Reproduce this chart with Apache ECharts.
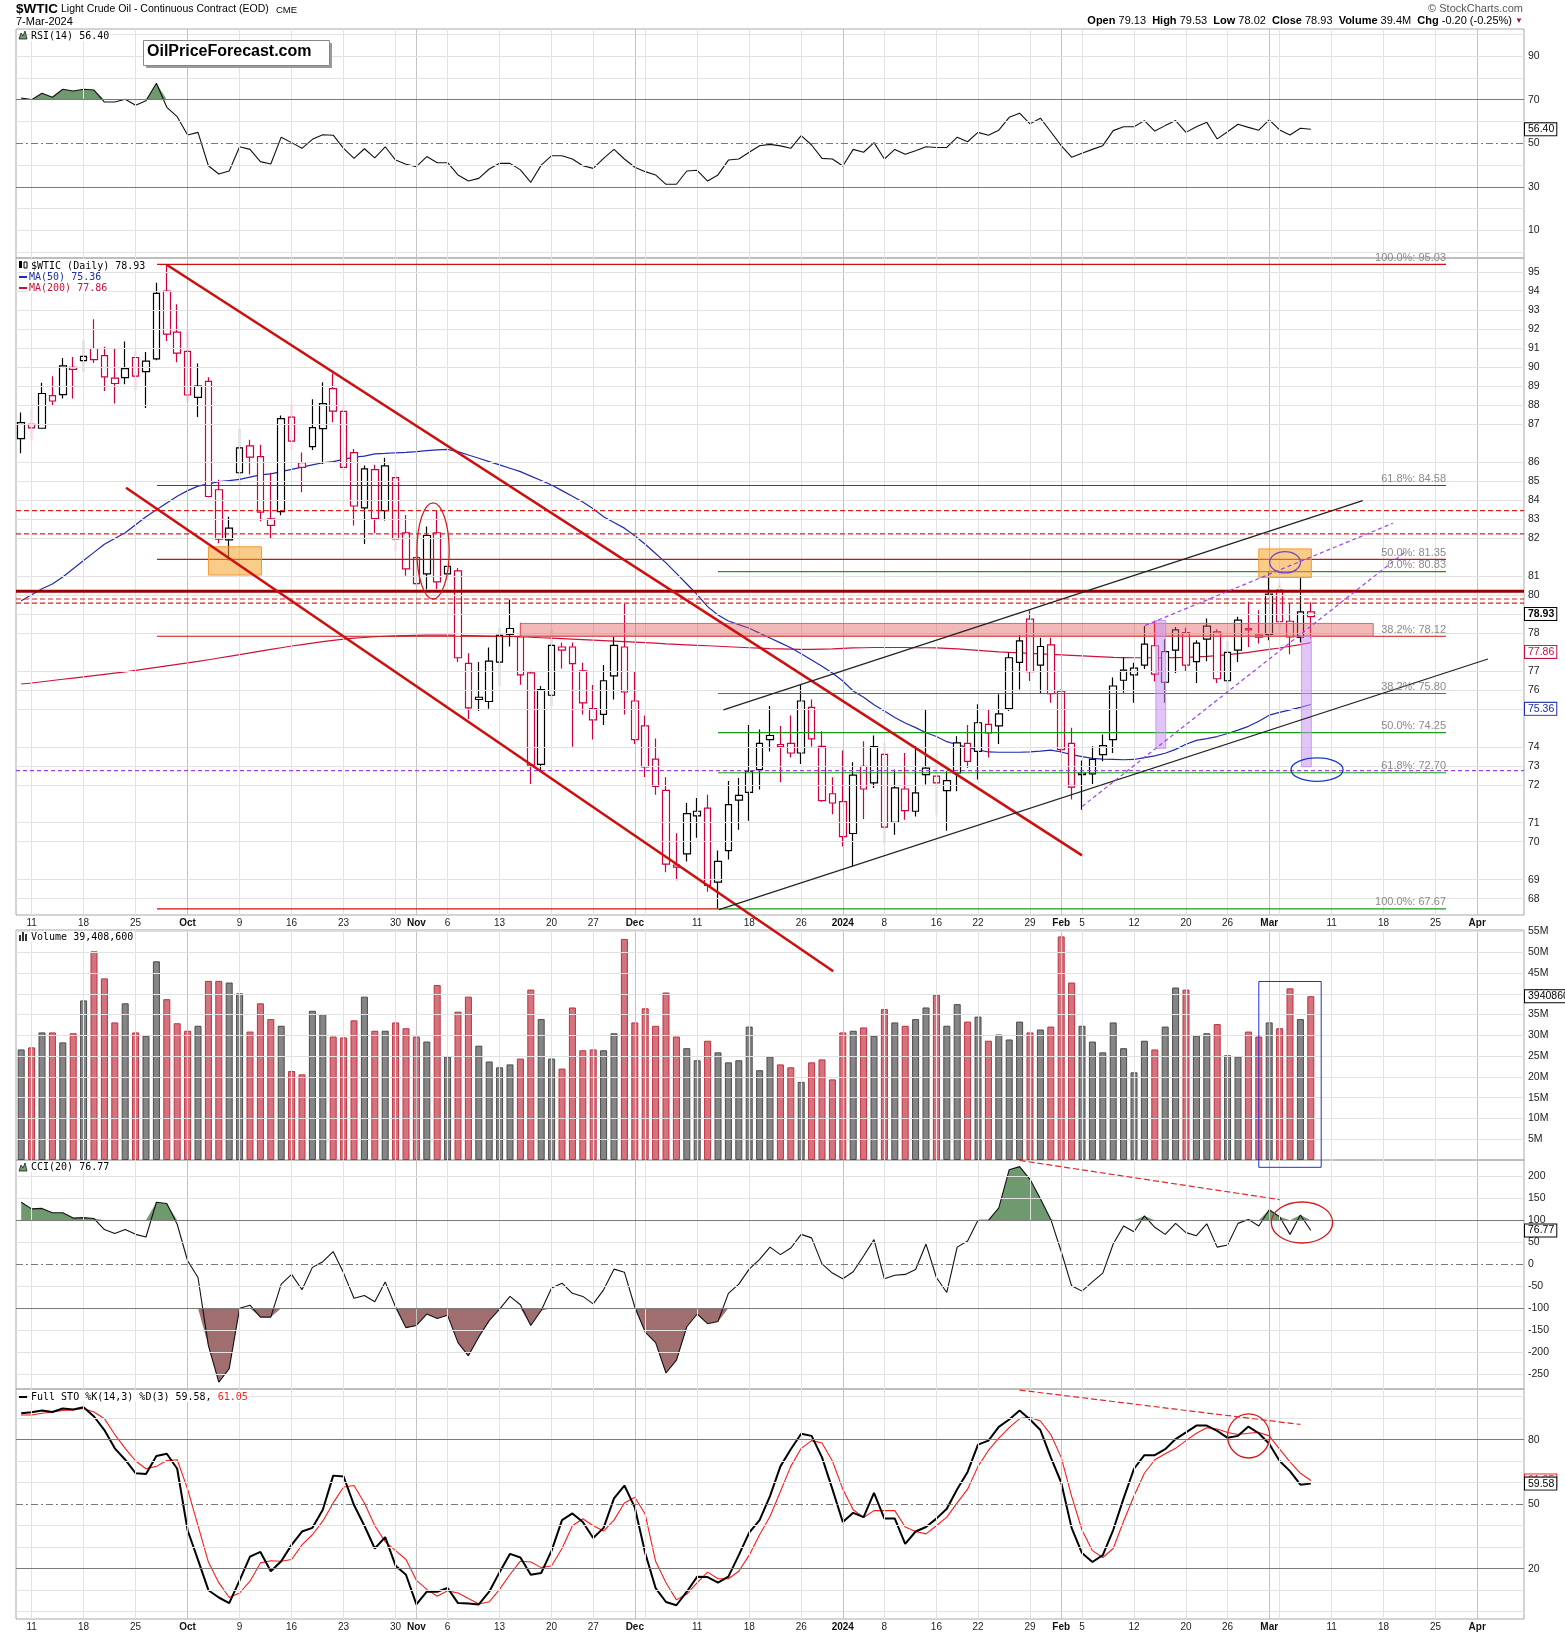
<!DOCTYPE html>
<html>
<head>
<meta charset="utf-8">
<script src="https://cdn.jsdelivr.net/npm/echarts/dist/echarts.min.js"></script>
<style>
  html, body { margin: 0; padding: 0; background: #fff; }
  #chart { width: 1565px; height: 1634px; }
</style>
</head>
<body>
<div id="chart"></div>
<script>
// ---------- calendar ----------
const startDate = '2023-09-08';
const holidays = ['2023-11-23', '2023-12-25', '2024-01-01', '2024-01-15', '2024-02-19', '2024-03-29'];
const totalDays = 145; // trading days shown on the axis, incl. empty future space

const tickDates = ['2023-09-11', '2023-09-18', '2023-09-25', '2023-10-02', '2023-10-09', '2023-10-16', '2023-10-23',
  '2023-10-30', '2023-11-01', '2023-11-06', '2023-11-13', '2023-11-20', '2023-11-27', '2023-12-01', '2023-12-11',
  '2023-12-18', '2023-12-26', '2024-01-02', '2024-01-08', '2024-01-16', '2024-01-22', '2024-01-29', '2024-02-01',
  '2024-02-05', '2024-02-12', '2024-02-20', '2024-02-26', '2024-03-01', '2024-03-11', '2024-03-18', '2024-03-25',
  '2024-04-01'];
const tickLabels = ['11', '18', '25', 'Oct', '9', '16', '23', '30', 'Nov', '6', '13', '20', '27', 'Dec', '11', '18',
  '26', '2024', '8', '16', '22', '29', 'Feb', '5', '12', '20', '26', 'Mar', '11', '18', '25', 'Apr'];
const boldLabels = ['Oct', 'Nov', 'Dec', '2024', 'Feb', 'Mar', 'Apr'];

// ---------- daily data (8 Sep 2023 .. 7 Mar 2024) ----------
const opens = [86.69, 87.35, 87.17, 88.68, 88.73, 90.01, 90.33, 90.91, 90.57, 89.25,
  89.53, 90.48, 89.81, 90.41, 93.70, 91.70, 90.77, 88.60, 89.35, 84.39,
  82.19, 85.15, 86.36, 85.88, 83.11, 83.42, 87.68, 85.60, 86.33, 87.15,
  89.01, 87.95, 86.06, 83.59, 85.29, 83.47, 84.93, 82.50, 81.43, 80.73,
  82.50, 81.05, 80.86, 77.01, 75.56, 75.48, 77.06, 78.44, 78.09, 76.63,
  73.02, 75.73, 77.55, 77.68, 76.71, 75.20, 74.97, 76.51, 77.68, 75.50,
  74.52, 73.22, 72.03, 69.17, 69.66, 71.07, 71.36, 68.63, 69.78, 71.84,
  71.95, 72.82, 73.98, 73.71, 73.83, 73.46, 75.25, 73.72, 71.90, 71.60,
  70.41, 72.95, 72.31, 73.41, 70.82, 72.08, 71.24, 72.88, 72.57, 72.02,
  72.69, 73.83, 73.52, 74.58, 74.52, 75.20, 77.05, 78.83, 76.94, 77.77,
  75.89, 73.83, 72.63, 72.66, 73.40, 73.98, 76.33, 76.55, 76.94, 77.73,
  76.25, 77.55, 78.27, 77.08, 78.00, 78.30, 76.31, 77.55, 78.44, 78.17,
  78.20, 80.04, 78.74, 78.07, 79.13];
const highs = [87.89, 88.07, 89.29, 89.59, 90.46, 90.50, 91.30, 92.32, 90.99, 90.91,
  91.25, 90.79, 90.74, 94.11, 95.03, 93.06, 91.82, 90.19, 89.54, 84.84,
  83.20, 87.15, 86.64, 86.42, 85.15, 87.76, 88.29, 86.06, 88.51, 89.31,
  89.72, 88.24, 86.22, 85.47, 85.51, 85.82, 85.25, 83.27, 81.80, 82.77,
  83.49, 81.08, 80.98, 77.42, 77.07, 77.66, 78.47, 79.65, 78.68, 76.71,
  76.10, 78.38, 77.86, 77.86, 77.04, 76.14, 76.95, 78.13, 79.47, 76.67,
  74.93, 74.02, 72.53, 70.42, 71.55, 71.74, 71.86, 69.78, 72.38, 72.50,
  74.55, 74.38, 75.30, 74.51, 74.93, 76.14, 75.56, 74.31, 72.53, 73.56,
  73.10, 73.92, 74.14, 73.85, 72.82, 73.46, 73.72, 75.17, 73.46, 72.76,
  74.11, 74.55, 75.37, 75.17, 75.77, 77.44, 78.17, 79.20, 78.06, 78.06,
  75.96, 74.44, 73.17, 73.72, 74.18, 76.44, 77.24, 77.04, 78.54, 78.76,
  78.00, 78.50, 78.47, 77.96, 78.86, 78.41, 77.93, 78.93, 79.55, 79.20,
  80.80, 80.37, 79.50, 80.59, 79.53];
const lows = [86.03, 86.61, 87.15, 88.20, 88.55, 88.55, 89.79, 90.22, 88.90, 88.31,
  89.21, 88.93, 88.11, 90.35, 91.27, 90.25, 88.38, 87.69, 84.06, 82.04,
  81.30, 84.59, 85.07, 83.00, 82.23, 83.26, 86.19, 84.28, 86.18, 85.54,
  87.45, 85.25, 82.81, 82.01, 82.48, 83.03, 81.70, 80.65, 80.20, 80.08,
  80.08, 80.56, 77.07, 74.79, 75.10, 75.19, 76.10, 77.70, 76.15, 72.27,
  72.78, 75.30, 76.80, 73.70, 74.97, 73.98, 74.55, 75.56, 74.97, 73.81,
  72.54, 71.86, 68.99, 68.70, 69.38, 70.25, 68.28, 67.67, 69.45, 70.55,
  70.88, 72.06, 73.52, 72.34, 73.29, 73.04, 73.70, 71.60, 71.13, 69.93,
  69.20, 70.94, 72.12, 70.01, 70.36, 70.92, 71.04, 72.25, 71.10, 70.51,
  71.99, 72.88, 72.44, 73.29, 73.81, 75.10, 75.96, 76.30, 75.79, 75.43,
  73.50, 71.68, 71.30, 72.27, 73.14, 73.46, 75.83, 75.43, 76.78, 76.28,
  75.43, 76.62, 76.67, 76.22, 77.10, 76.22, 75.79, 77.07, 77.68, 77.82,
  77.96, 78.41, 77.38, 77.86, 78.02];
const closes = [87.43, 87.19, 88.78, 88.43, 90.08, 89.92, 90.53, 90.38, 89.56, 89.50,
  89.95, 89.60, 90.31, 93.59, 91.60, 90.69, 88.71, 89.13, 84.09, 82.22,
  82.70, 86.27, 85.85, 83.40, 82.82, 87.61, 86.58, 85.39, 87.20, 88.31,
  87.96, 85.39, 83.67, 85.32, 83.12, 85.46, 82.23, 80.94, 80.32, 82.38,
  80.39, 80.73, 77.24, 75.23, 75.65, 77.10, 78.16, 78.20, 76.55, 72.99,
  75.96, 77.75, 77.68, 77.00, 75.43, 74.75, 76.31, 77.75, 75.86, 73.98,
  72.92, 72.18, 69.28, 69.25, 71.15, 71.24, 68.51, 69.38, 71.49, 71.66,
  72.76, 73.83, 74.14, 73.79, 73.46, 75.50, 74.01, 71.64, 71.55, 70.29,
  72.61, 72.08, 73.71, 70.65, 72.12, 71.26, 71.93, 72.63, 72.31, 72.40,
  73.85, 73.14, 74.64, 74.24, 74.99, 77.24, 77.93, 76.68, 77.70, 75.79,
  73.59, 72.15, 72.69, 73.21, 73.75, 76.10, 76.74, 76.82, 77.80, 76.58,
  77.49, 78.38, 76.94, 77.84, 78.54, 76.39, 77.46, 78.79, 78.38, 78.08,
  79.87, 78.72, 78.09, 79.13, 78.93];
const prevCloseBefore = 86.87;

// volume, millions of contracts
const volumes = [26.6, 27.1, 30.7, 30.7, 28.3, 30.5, 38.4, 50.2, 43.7, 33.1,
  37.7, 30.7, 29.9, 47.8, 38.7, 32.9, 31.1, 32.3, 43.1, 43.1,
  42.7, 40.1, 30.9, 37.7, 33.9, 32.3, 21.4, 20.6, 35.9, 35.1,
  29.7, 29.5, 33.6, 39.3, 31.1, 31.1, 33.1, 31.7, 29.7, 28.5,
  42.1, 24.9, 35.7, 39.3, 27.5, 23.7, 22.3, 23.0, 24.4, 41.0,
  33.9, 24.4, 22.0, 36.7, 26.4, 26.6, 26.4, 30.5, 53.2, 33.1,
  36.5, 32.3, 40.3, 29.7, 26.9, 24.0, 28.7, 25.9, 23.5, 24.0,
  32.1, 21.6, 24.9, 23.0, 22.3, 18.8, 23.5, 24.2, 19.4, 30.7,
  31.1, 31.9, 29.9, 36.3, 33.1, 32.3, 33.9, 36.7, 39.8, 32.3,
  37.5, 33.3, 34.5, 28.7, 30.2, 29.0, 33.3, 30.7, 31.4, 32.1,
  53.8, 42.7, 32.3, 28.5, 25.9, 33.1, 26.9, 21.1, 28.7, 26.6,
  32.1, 41.5, 41.0, 29.9, 30.5, 32.7, 25.2, 24.9, 30.9, 29.7,
  33.1, 31.7, 41.3, 33.9, 39.4086];

const ma50 = [79.6, 79.85, 80.1, 80.3, 80.6, 80.95, 81.3, 81.65, 82.0, 82.25,
  82.5, 82.85, 83.2, 83.5, 83.8, 84.1, 84.35, 84.55, 84.65, 84.75,
  84.8, 84.85, 84.95, 85.05, 85.1, 85.2, 85.3, 85.4, 85.5, 85.6,
  85.65, 85.75, 85.85, 85.9, 86.0, 86.02, 86.05, 86.07, 86.1, 86.15,
  86.18, 86.2, 86.1, 85.95, 85.8, 85.65, 85.5, 85.35, 85.2, 85.0,
  84.8, 84.6, 84.35, 84.1, 83.85, 83.55, 83.2, 82.95, 82.7, 82.37,
  82.0, 81.6, 81.2, 80.75, 80.3, 79.85, 79.35, 79.0, 78.75, 78.6,
  78.45, 78.25, 78.05, 77.85, 77.65, 77.4, 77.15, 76.9, 76.62, 76.3,
  75.9, 75.65, 75.35, 75.1, 74.85, 74.63, 74.45, 74.25, 74.1, 73.9,
  73.78, 73.68, 73.58, 73.5, 73.49, 73.49, 73.49, 73.5, 73.53, 73.57,
  73.5, 73.4, 73.32, 73.25, 73.22, 73.21, 73.2, 73.21, 73.28, 73.35,
  73.45, 73.6, 73.8, 73.95, 74.02, 74.1, 74.22, 74.35, 74.5, 74.7,
  74.94, 75.05, 75.15, 75.25, 75.36];
const ma200 = [76.18, 76.22, 76.27, 76.32, 76.37, 76.42, 76.47, 76.52, 76.57, 76.62,
  76.67, 76.73, 76.79, 76.85, 76.91, 76.97, 77.03, 77.09, 77.16, 77.23,
  77.3, 77.37, 77.44, 77.51, 77.58, 77.65, 77.72, 77.78, 77.84, 77.9,
  77.95, 78.0, 78.04, 78.07, 78.1, 78.12, 78.14, 78.15, 78.16, 78.17,
  78.17, 78.17, 78.16, 78.15, 78.14, 78.13, 78.12, 78.11, 78.1, 78.08,
  78.06, 78.04, 78.02, 78.0, 77.98, 77.96, 77.94, 77.92, 77.9, 77.88,
  77.86, 77.84, 77.81, 77.79, 77.77, 77.75, 77.73, 77.71, 77.69, 77.67,
  77.65, 77.63, 77.61, 77.6, 77.59, 77.58, 77.58, 77.59, 77.6, 77.62,
  77.64, 77.65, 77.66, 77.66, 77.66, 77.66, 77.65, 77.65, 77.64, 77.62,
  77.6, 77.57, 77.54, 77.51, 77.48, 77.46, 77.44, 77.42, 77.4, 77.38,
  77.36, 77.34, 77.32, 77.3, 77.28, 77.26, 77.25, 77.24, 77.24, 77.24,
  77.24, 77.25, 77.26, 77.28, 77.3, 77.33, 77.37, 77.41, 77.46, 77.52,
  77.58, 77.64, 77.71, 77.78, 77.86];

const rsi = [70.8, 70.0, 72.9, 71.1, 74.8, 74.0, 74.8, 74.4, 68.9, 68.9,
  70.2, 67.4, 69.5, 77.5, 66.5, 62.2, 53.8, 55.0, 39.7, 35.9,
  37.3, 48.4, 47.2, 41.6, 40.5, 52.8, 50.3, 47.7, 51.8, 53.9,
  53.7, 47.7, 43.1, 47.5, 43.3, 48.4, 42.3, 40.4, 39.3, 43.9,
  41.1, 41.1, 35.5, 32.7, 33.9, 38.2, 40.8, 40.8, 37.8, 32.1,
  40.0, 44.3, 44.3, 42.8, 39.7, 38.5, 43.1, 47.2, 42.8, 39.0,
  37.0, 35.5, 31.2, 31.2, 37.3, 37.6, 32.7, 35.5, 42.3, 42.8,
  45.9, 48.9, 49.5, 48.8, 47.7, 53.5, 49.2, 43.1, 42.8, 39.6,
  47.2, 45.9, 50.3, 42.8, 47.2, 45.0, 46.6, 48.4, 48.1, 48.1,
  52.8, 50.7, 55.0, 53.7, 56.0, 61.9, 63.8, 58.9, 61.5, 55.3,
  48.9, 43.6, 45.4, 47.2, 48.9, 55.8, 57.6, 57.6, 60.4, 55.6,
  58.1, 60.4, 55.0, 57.6, 59.6, 52.0, 55.3, 58.7, 57.3, 56.0,
  60.7, 56.1, 53.8, 56.9, 56.40];

const cci = [141, 126, 127, 117, 117, 105, 106, 104, 79, 70,
  79, 68, 62, 141, 138, 91, 8, -30, -185, -268,
  -237, -100, -93, -120, -120, -45, -23, -58, -7, 6,
  29, -20, -77, -71, -85, -40, -97, -144, -139, -113,
  -123, -116, -178, -208, -165, -128, -102, -73, -92, -139,
  -105, -54, -43, -66, -73, -90, -58, -11, -18, -97,
  -154, -178, -247, -218, -142, -113, -135, -130, -66, -45,
  -11, 11, 39, 22, 37, 68, 60, 1, -20, -33,
  -17, 19, 56, -33, -25, -23, -12, 46, -30, -64,
  39, 53, 100, 100, 128, 215, 222, 193, 149, 102,
  29, -49, -61, -40, -20, 46, 87, 74, 110, 84,
  68, 93, 72, 65, 92, 39, 44, 93, 102, 87,
  124, 108, 68, 112, 76.77];

const stoK = [92.3, 92.8, 93.6, 92.9, 94.5, 94.1, 95.1, 90.8, 84.5, 76.0,
  70.7, 64.4, 64.0, 72.4, 73.5, 66.5, 37.9, 24.1, 10.0, 6.6,
  4.0, 14.6, 25.6, 27.8, 18.8, 23.5, 31.1, 37.3, 39.0, 47.4,
  63.3, 62.9, 49.6, 40.0, 29.4, 34.7, 21.4, 17.2, 3.4, 9.3,
  9.3, 11.0, 4.0, 3.8, 3.4, 9.3, 18.4, 26.9, 25.2, 17.2,
  18.0, 28.4, 42.6, 45.7, 41.7, 34.3, 39.0, 52.7, 58.7, 48.5,
  27.3, 11.0, 4.5, 3.0, 9.3, 16.3, 16.1, 13.5, 16.3, 26.3,
  36.8, 42.6, 53.8, 67.6, 75.6, 82.8, 81.8, 71.8, 57.0, 41.7,
  46.0, 44.0, 55.3, 43.3, 43.3, 31.5, 37.3, 39.4, 43.3, 47.9,
  57.0, 65.0, 77.7, 79.6, 86.0, 89.4, 93.6, 89.4, 84.5, 71.8,
  60.1, 39.0, 27.3, 23.1, 26.3, 38.0, 52.7, 66.5, 72.8, 72.8,
  75.6, 80.3, 83.4, 86.6, 86.6, 84.1, 80.9, 81.8, 86.1, 83.0,
  78.1, 70.1, 65.4, 59.1, 59.58];
const stoD = [91.5, 91.5, 92.3, 92.9, 93.6, 93.9, 94.5, 92.9, 89.8, 82.4,
  76.0, 70.1, 66.5, 67.6, 70.3, 70.7, 57.0, 40.0, 23.1, 13.5,
  6.6, 8.7, 14.2, 22.7, 23.7, 23.5, 24.3, 31.1, 35.8, 42.1,
  50.6, 58.0, 58.7, 50.6, 40.0, 32.6, 28.4, 24.3, 14.6, 10.4,
  7.2, 9.7, 8.7, 6.1, 3.6, 4.6, 10.4, 17.3, 23.5, 23.1,
  20.5, 21.4, 29.4, 40.0, 43.2, 40.0, 37.5, 42.6, 50.6, 53.2,
  45.3, 23.5, 13.5, 5.5, 8.2, 13.5, 18.4, 15.3, 15.3, 18.8,
  26.3, 35.8, 44.3, 55.9, 67.6, 76.0, 79.6, 78.5, 70.1, 57.0,
  47.4, 43.8, 47.0, 47.0, 47.0, 39.4, 37.3, 36.2, 40.0, 44.0,
  50.6, 57.0, 67.6, 75.0, 80.7, 85.6, 89.8, 90.4, 88.7, 82.4,
  71.8, 53.8, 38.0, 28.4, 25.2, 29.4, 42.1, 53.8, 64.4, 70.7,
  73.5, 76.0, 79.6, 83.0, 85.6, 85.0, 83.4, 82.4, 83.0, 83.4,
  81.8, 75.6, 69.7, 64.4, 61.05];

// ---------- axis tick values ----------
const priceTicks = [68, 69, 70, 71, 72, 73, 74, 75, 76, 77, 78, 79, 80, 81, 82, 83, 84, 85, 86, 87, 88, 89, 90, 91, 92, 93, 94, 95];
const rsiGrid = [0, 10, 20, 30, 40, 50, 60, 70, 80, 90, 100];
const rsiLabels = [10, 30, 50, 70, 90];
const volTicks = [5, 10, 15, 20, 25, 30, 35, 40, 45, 50, 55];
const cciTicks = [-250, -200, -150, -100, -50, 0, 50, 100, 150, 200];
const stoGrid = [0, 10, 20, 30, 40, 50, 60, 70, 80, 90, 100];
const stoLabels = [20, 50, 80];

// ---------- drawn annotations (trading-day index, value) ----------
const redFibLevels = [95.03, 84.58, 81.35, 78.12];
const redFibSpan = [13.06, 137.0];
const greenFibLevels = [80.83, 75.80, 74.25, 72.70, 67.67];
const greenFibSpan = [67.0, 137.0];
const redBaseLevel = [67.67, 13.06, 67.0];
const fibTexts = [['100.0%: 95.03', 95.03], ['61.8%: 84.58', 84.58], ['50.0%: 81.35', 81.35],
  ['0.0%: 80.83', 80.83], ['38.2%: 78.12', 78.12], ['38.2%: 75.80', 75.80], ['50.0%: 74.25', 74.25],
  ['61.8%: 72.70', 72.70], ['100.0%: 67.67', 67.67]];
const dashedResistance = [83.47, 82.45, 79.67, 79.50];
const keyLevel80 = 80.0;
const purpleLevel = 72.78;
const downTrendUpper = [[14.03, 95.0], [102.0, 69.6]];
const downTrendLower = [[10.08, 84.48], [78.08, 65.48]];
const channelUpper = [[67.52, 75.15], [128.99, 83.91]];
const channelLower = [[67.1, 67.64], [141.03, 77.19]];
const wedgeUpper = [[108.08, 78.57], [131.88, 82.91]];
const wedgeLower = [[102.01, 71.42], [133.1, 81.68]];
const supportZone = [48.0, 130.0, 78.12, 78.65];
const orangeZones = [[18.0, 23.1, 80.68, 81.89], [119.0, 124.05, 80.58, 81.80]];
const lavenderBars = [[109.1, 110.05, 73.64, 78.78], [123.1, 124.05, 72.93, 78.12]];
const redOval = [38.05, 41.15, 79.67, 83.81];
const purpleOval = [120.05, 123.0, 80.77, 81.68];
const blueOval = [122.1, 127.1, 72.37, 73.27];
const volBox = [119.0, 125.0, -1.76, 42.95];
const cciOval = [120.2, 126.1, 48.4, 141.6];
const cciDivergence = [[96.0, 236], [121.0, 147]];
const stoCircle = [116.0, 120.05, 71.5, 92.0];
const stoDivergence = [[96.0, 103.1], [123.0, 87.1]];

// ---------- derived ----------
const dates = [];
(function () {
  let t = Date.parse(startDate + 'T00:00:00Z');
  while (dates.length < totalDays) {
    const d = new Date(t);
    const s = d.toISOString().slice(0, 10);
    const dow = d.getUTCDay();
    if (dow !== 0 && dow !== 6 && holidays.indexOf(s) < 0) dates.push(s);
    t += 86400000;
  }
})();
const labelMap = new Map(tickDates.map((d, k) => [d, tickLabels[k]]));
const weekStarts = [];
const monthStarts = new Set();
for (let i = 1; i < dates.length; i++) {
  const a = new Date(dates[i - 1] + 'T00:00:00Z');
  const b = new Date(dates[i] + 'T00:00:00Z');
  const newWeek = b.getUTCDay() < a.getUTCDay() || (b - a) > 3 * 86400000;
  const newMonth = b.getUTCMonth() !== a.getUTCMonth();
  if (newWeek || newMonth) weekStarts.push(i);
  if (newMonth) monthStarts.add(i);
}
const up = closes.map((c, i) => c >= (i ? closes[i - 1] : prevCloseBefore));

const LN = Math.log;
const RED = '#d1003a';
const BLACK = '#000';

const yRanges = [[-2.6, 102.4], [LN(67.45), LN(95.35)], [0, 55.34], [-283.4, 237], [-3.4, 103.6]];
const gridBoxes = [[29, 229], [258, 657], [930, 230], [1160, 229], [1389, 230]];

// ---------- helpers ----------
const FONT = 'Arial, "Liberation Sans", sans-serif';
function hLine(v, text, color, type, width) {
  return {
    yAxis: v,
    lineStyle: { color: color, type: type, width: width },
    label: { show: text !== '', position: 'end', distance: 4, formatter: text, color: '#222', fontSize: 10.5, fontFamily: FONT }
  };
}
function tag(v, text, color, bold) {
  return {
    yAxis: v,
    lineStyle: { color: 'rgba(255,255,255,0)', width: 1, type: 'solid' },
    label: {
      show: true, position: 'end', distance: 1, formatter: text, color: color, fontSize: 10.5,
      fontFamily: FONT, fontWeight: bold ? 'bold' : 'normal', backgroundColor: '#fff',
      borderColor: color, borderWidth: 1, padding: [1, 2, 0, 3]
    }
  };
}
const DASHDOT = [7, 3, 2, 3];
function guideSeries(g, hLines) {
  const vLines = weekStarts.map((i) => ({
    xAxis: i,
    lineStyle: { color: monthStarts.has(i) ? '#c2c2c2' : '#e2e2e2', width: 1, type: 'solid' },
    label: { show: false }
  }));
  return {
    type: 'line', xAxisIndex: 2 * g + 1, yAxisIndex: g, data: [[-5, yRanges[g][0]]],
    symbol: 'none', lineStyle: { width: 0 }, silent: true, z: 1,
    markLine: { silent: true, symbol: ['none', 'none'], animation: false, label: { show: false }, data: vLines.concat(hLines) }
  };
}
function tagSeries(g, tags) {
  return {
    type: 'line', xAxisIndex: 2 * g + 1, yAxisIndex: g, data: [[-5, yRanges[g][0]]],
    symbol: 'none', lineStyle: { width: 0 }, silent: true, z: 20,
    markLine: { silent: true, symbol: ['none', 'none'], animation: false, label: { show: true }, data: tags }
  };
}
function segSeries(g, pts, yOf, color, width, type, z) {
  return {
    type: 'line', xAxisIndex: 2 * g + 1, yAxisIndex: g, silent: true, clip: false,
    symbol: 'none', z: z || 8, animation: false,
    data: pts.map((p) => [p[0], yOf(p[1])]),
    lineStyle: { color: color, width: width, type: type }
  };
}
function shapeSeries(g, shapes, yOf, z) {
  return {
    type: 'custom', xAxisIndex: 2 * g + 1, yAxisIndex: g, silent: true, clip: false, z: z || 6,
    animation: false,
    data: shapes.map((s) => [s.box[0], yOf(s.box[2])]),
    encode: { x: 0, y: 1 },
    renderItem: function (params, api) {
      const s = shapes[params.dataIndex];
      const b = s.box;
      if (s.kind === 'text') {
        const p = api.coord([b[0], yOf(b[2])]);
        return {
          type: 'text', x: p[0], y: p[1] - 1,
          style: { text: s.text, fill: '#8a8a8a', font: '11px ' + FONT, align: 'right', verticalAlign: 'bottom', textAlign: 'right', textVerticalAlign: 'bottom' }
        };
      }
      const tl = api.coord([b[0], yOf(b[3])]);
      const br = api.coord([b[1], yOf(b[2])]);
      if (s.kind === 'ellipse') {
        return {
          type: 'ellipse',
          shape: { cx: (tl[0] + br[0]) / 2, cy: (tl[1] + br[1]) / 2, rx: (br[0] - tl[0]) / 2, ry: (br[1] - tl[1]) / 2 },
          style: { fill: 'none', stroke: s.stroke, lineWidth: 1.3 }
        };
      }
      return {
        type: 'rect',
        shape: { x: tl[0], y: tl[1], width: br[0] - tl[0], height: br[1] - tl[1] },
        style: { fill: s.fill, stroke: s.stroke, lineWidth: 1 }
      };
    }
  };
}
const idY = (v) => v;
const lnY = (v) => LN(v);
const volY = (v) => v;

// ---------- axes ----------
const dateLabel = {
  show: true, margin: 3, fontSize: 10, fontFamily: FONT, color: '#222',
  interval: function (idx, val) { return labelMap.has(val); },
  formatter: function (val) {
    const t = labelMap.get(val) || '';
    return boldLabels.indexOf(t) >= 0 ? '{b|' + t + '}' : t;
  },
  rich: { b: { fontWeight: 'bold', fontSize: 10, fontFamily: FONT, color: '#111' } }
};
const grids = gridBoxes.map((g) => ({
  left: 16, width: 1508, top: g[0], height: g[1], show: true, borderColor: '#a8a8a8', borderWidth: 1,
  backgroundColor: 'transparent', containLabel: false, outerBoundsMode: 'none'
}));
const xAxes = [];
gridBoxes.forEach((g, k) => {
  xAxes.push({
    type: 'category', gridIndex: k, data: dates, boundaryGap: true,
    axisLine: { show: false }, axisTick: { show: false }, splitLine: { show: false },
    axisLabel: (k === 1 || k === 4) ? dateLabel : { show: false }
  });
  xAxes.push({ type: 'value', gridIndex: k, min: -0.5, max: totalDays - 0.5, show: false });
});
const yAxes = yRanges.map((r, k) => ({
  type: 'value', gridIndex: k, min: r[0], max: r[1], position: 'right', show: true,
  axisLine: { show: false }, axisTick: { show: false }, splitLine: { show: false }, axisLabel: { show: false }
}));

// ---------- series ----------
const series = [];
const LIGHT = '#e2e2e2';
const DARK = '#7a7a7a';

// RSI panel
series.push(guideSeries(0, rsiGrid.map((v) => {
  const lab = rsiLabels.indexOf(v) >= 0 ? String(v) : '';
  if (v === 70 || v === 30) return hLine(v, lab, DARK, 'solid', 1.2);
  if (v === 50) return hLine(v, lab, DARK, DASHDOT, 1);
  return hLine(v, lab, LIGHT, 'solid', 1);
})));
series.push({
  type: 'line', xAxisIndex: 0, yAxisIndex: 0, data: rsi.map((v) => Math.max(v, 70)), symbol: 'none',
  lineStyle: { width: 0 }, areaStyle: { color: '#6f9a6f', opacity: 1, origin: 70 }, silent: true, z: 3
});
series.push({
  type: 'line', xAxisIndex: 0, yAxisIndex: 0, data: rsi, symbol: 'none',
  lineStyle: { color: '#111', width: 1.1 }, silent: true, z: 4
});
series.push(tagSeries(0, [tag(56.40, '56.40', '#000', false)]));

// price panel
series.push(guideSeries(1, priceTicks.map((p) => hLine(LN(p), String(p), LIGHT, 'solid', 1))));
series.push({
  type: 'candlestick', xAxisIndex: 2, yAxisIndex: 1, barWidth: 7, silent: true, z: 4,
  data: closes.map((c, i) => {
    const col = up[i] ? BLACK : RED;
    return {
      value: [LN(opens[i]), LN(c), LN(lows[i]), LN(highs[i])],
      itemStyle: { color: '#fff', color0: col, borderColor: col, borderColor0: col, borderWidth: 1.2 }
    };
  })
});
series.push({
  type: 'line', xAxisIndex: 2, yAxisIndex: 1, data: ma200.map(LN), symbol: 'none', silent: true, z: 3,
  lineStyle: { color: '#d0103a', width: 1.2 }
});
series.push({
  type: 'line', xAxisIndex: 2, yAxisIndex: 1, data: ma50.map(LN), symbol: 'none', silent: true, z: 3,
  lineStyle: { color: '#1f2bb0', width: 1.2 }
});
// horizontal levels
redFibLevels.forEach((p) => series.push(segSeries(1, [[redFibSpan[0], p], [redFibSpan[1], p]], lnY, '#cc1010', 1.2, 'solid', 5)));
series.push(segSeries(1, [[redBaseLevel[1], redBaseLevel[0]], [redBaseLevel[2], redBaseLevel[0]]], lnY, '#cc1010', 1.2, 'solid', 5));
greenFibLevels.forEach((p) => series.push(segSeries(1, [[greenFibSpan[0], p], [greenFibSpan[1], p]], lnY, '#1a9a1a', 1.2, 'solid', 5)));
dashedResistance.forEach((p) => series.push(segSeries(1, [[-0.5, p], [totalDays - 0.5, p]], lnY, '#dd2020', 1.2, [5, 3], 5)));
series.push(segSeries(1, [[-0.5, keyLevel80], [totalDays - 0.5, keyLevel80]], lnY, '#990000', 3, 'solid', 5));
series.push(segSeries(1, [[-0.5, purpleLevel], [totalDays - 0.5, purpleLevel]], lnY, '#a040f0', 1.2, [4, 3], 5));
// zones
const priceShapes = [{ kind: 'rect', box: supportZone, fill: 'rgba(226,86,86,0.42)', stroke: '#e06666' }]
  .concat(orangeZones.map((b) => ({ kind: 'rect', box: b, fill: 'rgba(246,162,40,0.55)', stroke: '#f29a2e' })))
  .concat(lavenderBars.map((b) => ({ kind: 'rect', box: b, fill: 'rgba(200,150,242,0.55)', stroke: 'rgba(185,130,235,0.7)' })))
  .concat([
    { kind: 'ellipse', box: redOval, stroke: '#d41a1a' },
    { kind: 'ellipse', box: purpleOval, stroke: '#7048c0' },
    { kind: 'ellipse', box: blueOval, stroke: '#1f38c8' }
  ]);
series.push(shapeSeries(1, priceShapes, lnY, 6));
series.push(shapeSeries(1, fibTexts.map((t) => ({ kind: 'text', box: [greenFibSpan[1], 0, t[1]], text: t[0] })), lnY, 9));
// trend lines
series.push(segSeries(1, downTrendUpper, lnY, '#cc1010', 2.6, 'solid', 8));
series.push(segSeries(1, downTrendLower, lnY, '#cc1010', 2.6, 'solid', 8));
series.push(segSeries(1, channelUpper, lnY, '#222', 1.3, 'solid', 8));
series.push(segSeries(1, channelLower, lnY, '#222', 1.3, 'solid', 8));
series.push(segSeries(1, wedgeUpper, lnY, '#a040f0', 1.2, [4, 3], 8));
series.push(segSeries(1, wedgeLower, lnY, '#a040f0', 1.2, [4, 3], 8));
series.push(tagSeries(1, [
  tag(LN(77.86), '77.86', '#c8103a', false),
  tag(LN(75.36), '75.36', '#1a2aa8', false),
  tag(LN(78.93), '78.93', '#000', true)
]));

// volume panel
series.push(guideSeries(2, volTicks.map((v) => hLine(v, v + 'M', LIGHT, 'solid', 1))));
series.push({
  type: 'bar', xAxisIndex: 4, yAxisIndex: 2, barWidth: 7, silent: true, z: 3,
  data: volumes.map((v, i) => ({
    value: v,
    itemStyle: up[i] ? { color: '#858585', borderColor: '#4a4a4a', borderWidth: 1 } : { color: '#d4737d', borderColor: '#c0303f', borderWidth: 1 }
  }))
});
series.push(shapeSeries(2, [{ kind: 'rect', box: volBox, fill: 'none', stroke: '#1f2fd8' }], volY, 6));
series.push(tagSeries(2, [tag(39.4086, '39408600', '#000', false)]));

// CCI panel
series.push(guideSeries(3, cciTicks.map((v) => {
  if (v === 100 || v === -100) return hLine(v, String(v), DARK, 'solid', 1.2);
  if (v === 0) return hLine(v, '0', DARK, DASHDOT, 1);
  return hLine(v, String(v), LIGHT, 'solid', 1);
})));
series.push({
  type: 'line', xAxisIndex: 6, yAxisIndex: 3, data: cci.map((v) => Math.max(v, 100)), symbol: 'none',
  lineStyle: { width: 0 }, areaStyle: { color: '#6f9a6f', opacity: 1, origin: 100 }, silent: true, z: 3
});
series.push({
  type: 'line', xAxisIndex: 6, yAxisIndex: 3, data: cci.map((v) => Math.min(v, -100)), symbol: 'none',
  lineStyle: { width: 0 }, areaStyle: { color: '#a06e6e', opacity: 1, origin: -100 }, silent: true, z: 3
});
series.push({
  type: 'line', xAxisIndex: 6, yAxisIndex: 3, data: cci, symbol: 'none',
  lineStyle: { color: '#111', width: 1.1 }, silent: true, z: 4
});
series.push(shapeSeries(3, [{ kind: 'ellipse', box: cciOval, stroke: '#d41a1a' }], idY, 6));
series.push(segSeries(3, cciDivergence, idY, '#e02828', 1.2, [6, 3], 7));
series.push(tagSeries(3, [tag(76.77, '76.77', '#000', false)]));

// stochastics panel
series.push(guideSeries(4, stoGrid.map((v) => {
  const lab = stoLabels.indexOf(v) >= 0 ? String(v) : '';
  if (v === 80 || v === 20) return hLine(v, lab, DARK, 'solid', 1.2);
  if (v === 50) return hLine(v, lab, DARK, DASHDOT, 1);
  return hLine(v, lab, LIGHT, 'solid', 1);
})));
series.push({
  type: 'line', xAxisIndex: 8, yAxisIndex: 4, data: stoD, symbol: 'none',
  lineStyle: { color: '#ff1a1a', width: 1.1 }, silent: true, z: 3
});
series.push({
  type: 'line', xAxisIndex: 8, yAxisIndex: 4, data: stoK, symbol: 'none',
  lineStyle: { color: '#000', width: 2 }, silent: true, z: 4
});
series.push(shapeSeries(4, [{ kind: 'ellipse', box: stoCircle, stroke: '#d41a1a' }], idY, 6));
series.push(segSeries(4, stoDivergence, idY, '#e02828', 1.2, [6, 3], 7));
series.push(tagSeries(4, [tag(61.05, '61.05', '#ff1a1a', false), tag(59.58, '59.58', '#000', false)]));

// ---------- header, legends ----------
const MONO = '"DejaVu Sans Mono", monospace';
function legendText(x, y, text, color, rich) {
  return {
    type: 'text', left: x, top: y, z: 50,
    style: { text: text, font: '10px ' + MONO, fill: color, backgroundColor: '#fff', padding: [1, 1, 0, 1], rich: rich }
  };
}
const graphic = [
  { type: 'text', left: 16, top: 2, style: { text: '$WTIC', font: 'bold 13.5px ' + FONT, fill: '#000' } },
  { type: 'text', left: 61, top: 4, style: { text: 'Light Crude Oil - Continuous Contract (EOD)', font: '10.5px ' + FONT, fill: '#000' } },
  { type: 'text', left: 276, top: 5, style: { text: 'CME', font: '9.5px ' + FONT, fill: '#000' } },
  { type: 'text', left: 16, top: 16, style: { text: '7-Mar-2024', font: '11px ' + FONT, fill: '#000' } },
  { type: 'text', right: 42, top: 3, style: { text: '\u00A9 StockCharts.com', font: '11px ' + FONT, fill: '#555' } },
  {
    type: 'text', right: 42, top: 15,
    style: {
      text: '{b|Open} 79.13  {b|High} 79.53  {b|Low} 78.02  {b|Close} 78.93  {b|Volume} 39.4M  {b|Chg} -0.20 (-0.25%) {r|\u25BC}',
      font: '11px ' + FONT, fill: '#000',
      rich: { b: { fontWeight: 'bold', fontSize: 11, fontFamily: FONT }, r: { fill: '#b01030', fontSize: 8 } }
    }
  },
  // watermark box
  { type: 'rect', left: 146, top: 43, z: 40, shape: { width: 186, height: 25 }, style: { fill: '#9a9a9a' } },
  { type: 'rect', left: 143, top: 40, z: 41, shape: { width: 186, height: 25 }, style: { fill: '#fff', stroke: '#888', lineWidth: 1 } },
  { type: 'text', left: 147, top: 44, z: 42, style: { text: 'OilPriceForecast.com', font: 'bold 16px ' + FONT, fill: '#000' } },
  // panel legends
  { type: 'polygon', z: 50, shape: { points: [[19, 39], [21, 33], [23, 36], [25, 31], [27, 39]] }, style: { fill: '#6f9a6f', stroke: '#222', lineWidth: 0.8 } },
  legendText(30, 30, 'RSI(14) 56.40', '#000'),
  { type: 'rect', z: 50, shape: { x: 19, y: 261, width: 3, height: 7 }, style: { fill: '#000' } },
  { type: 'rect', z: 50, shape: { x: 24, y: 262, width: 3, height: 6 }, style: { fill: '#fff', stroke: '#000', lineWidth: 1 } },
  legendText(30, 260, '$WTIC (Daily) 78.93', '#000'),
  { type: 'rect', z: 50, shape: { x: 19, y: 276, width: 8, height: 2 }, style: { fill: '#1f2bb0' } },
  legendText(28, 271, 'MA(50) 75.36', '#1f2bb0'),
  { type: 'rect', z: 50, shape: { x: 19, y: 287, width: 8, height: 2 }, style: { fill: '#d0103a' } },
  legendText(28, 282, 'MA(200) 77.86', '#d0103a'),
  { type: 'rect', z: 50, shape: { x: 19, y: 935, width: 2, height: 6 }, style: { fill: '#333' } },
  { type: 'rect', z: 50, shape: { x: 22, y: 932, width: 2, height: 9 }, style: { fill: '#333' } },
  { type: 'rect', z: 50, shape: { x: 25, y: 934, width: 2, height: 7 }, style: { fill: '#333' } },
  legendText(30, 931, 'Volume 39,408,600', '#000'),
  { type: 'polygon', z: 50, shape: { points: [[19, 1171], [21, 1165], [23, 1168], [25, 1163], [27, 1171]] }, style: { fill: '#6f9a6f', stroke: '#222', lineWidth: 0.8 } },
  legendText(30, 1161, 'CCI(20) 76.77', '#000'),
  { type: 'rect', z: 50, shape: { x: 19, y: 1396, width: 8, height: 2 }, style: { fill: '#000' } },
  legendText(30, 1391, 'Full STO %K(14,3) %D(3) 59.58, {r|61.05}', '#000', { r: { fill: '#ff1a1a', fontFamily: MONO, fontSize: 10 } })
];

const chart = echarts.init(document.getElementById('chart'), null, { renderer: 'canvas', width: 1565, height: 1634 });
chart.setOption({
  animation: false,
  backgroundColor: '#fff',
  grid: grids,
  xAxis: xAxes,
  yAxis: yAxes,
  series: series,
  graphic: graphic
});
</script>
</body>
</html>
